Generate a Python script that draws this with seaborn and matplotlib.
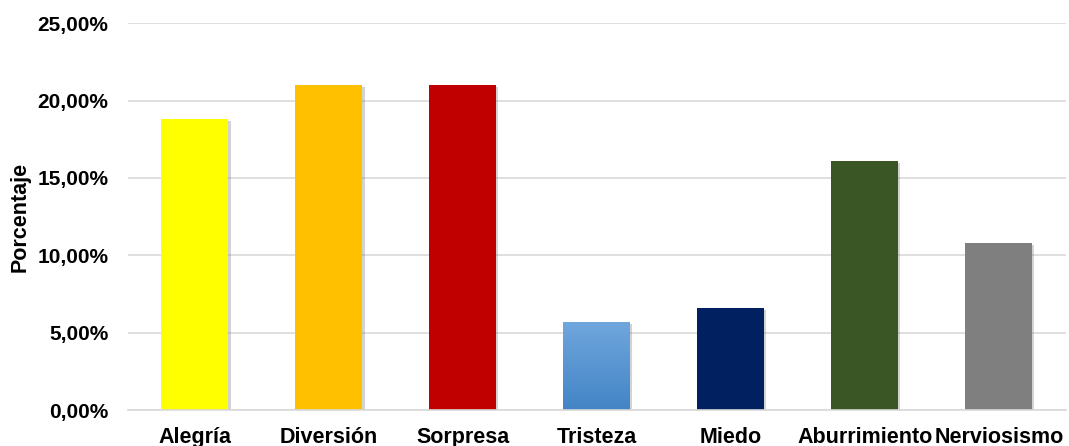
import numpy as np
import pandas as pd
import matplotlib
matplotlib.use("Agg")
import matplotlib.pyplot as plt
import matplotlib.patheffects as pe
from matplotlib.colors import LinearSegmentedColormap
from matplotlib.ticker import FuncFormatter, MultipleLocator
import seaborn as sns

categories = ["Alegría", "Diversión", "Sorpresa", "Tristeza", "Miedo", "Aburrimiento", "Nerviosismo"]
porcentajes = [0.188, 0.210, 0.210, 0.057, 0.066, 0.161, 0.108]
colores = ["#FFFF00", "#FFC000", "#C00000", "#5A9AD6", "#002060", "#3A5624", "#7F7F7F"]

df = pd.DataFrame({"Emoción": categories, "Porcentaje": porcentajes})

sns.set_theme(style="white")
plt.rcParams["font.family"] = ["Liberation Sans", "DejaVu Sans"]

fig = plt.figure(figsize=(10.69, 4.46), dpi=100)
ax = fig.add_axes([0.1197, 0.0807, 0.8773, 0.8671])

sns.barplot(data=df, x="Emoción", y="Porcentaje", hue="Emoción",
            palette=colores, width=0.5, legend=False, ax=ax, saturation=1)

shadow = [pe.SimplePatchShadow(offset=(1.5, -1.5), shadow_rgbFace="#707070", alpha=0.3), pe.Normal()]
for p in ax.patches:
    p.set_edgecolor("none")
    p.set_path_effects(shadow)

# vertical gradient fill on the Tristeza bar
bar = ax.patches[categories.index("Tristeza")]
x0, w, h = bar.get_x(), bar.get_width(), bar.get_height()
grad_cmap = LinearSegmentedColormap.from_list("tristeza", ["#4384C6", "#70A7DD"])
grad = np.linspace(0, 1, 256).reshape(-1, 1)
img = ax.imshow(grad, cmap=grad_cmap, aspect="auto", origin="lower",
                extent=(x0, x0 + w, 0, h), zorder=bar.get_zorder() + 0.1)
img.set_clip_path(bar)

ax.set_xlim(-0.5, len(categories) - 0.5)
ax.set_ylim(0, 0.25)
ax.yaxis.set_major_locator(MultipleLocator(0.05))
ax.yaxis.set_major_formatter(FuncFormatter(lambda v, _: f"{v * 100:.2f}".replace(".", ",") + "%"))

ax.grid(axis="y", color="#D9D9D9", linewidth=1.2)
ax.set_axisbelow(True)
for side in ["top", "right", "left"]:
    ax.spines[side].set_visible(False)
ax.spines["bottom"].set_color("#D9D9D9")
ax.spines["bottom"].set_linewidth(1.2)

ax.tick_params(axis="y", length=0, labelsize=15, colors="black", pad=14)
ax.tick_params(axis="x", length=0, labelsize=15.5, colors="black", pad=12)
for lab in ax.get_xticklabels() + ax.get_yticklabels():
    lab.set_fontweight("bold")

ax.set_xlabel("")
ax.set_ylabel("Porcentaje", fontsize=15.5, fontweight="bold", color="black")
ax.yaxis.set_label_coords(-0.104, 0.5)

ax.set_xlim(-0.5, len(categories) - 0.5)
fig.savefig("out.png", dpi=100, facecolor="white")
